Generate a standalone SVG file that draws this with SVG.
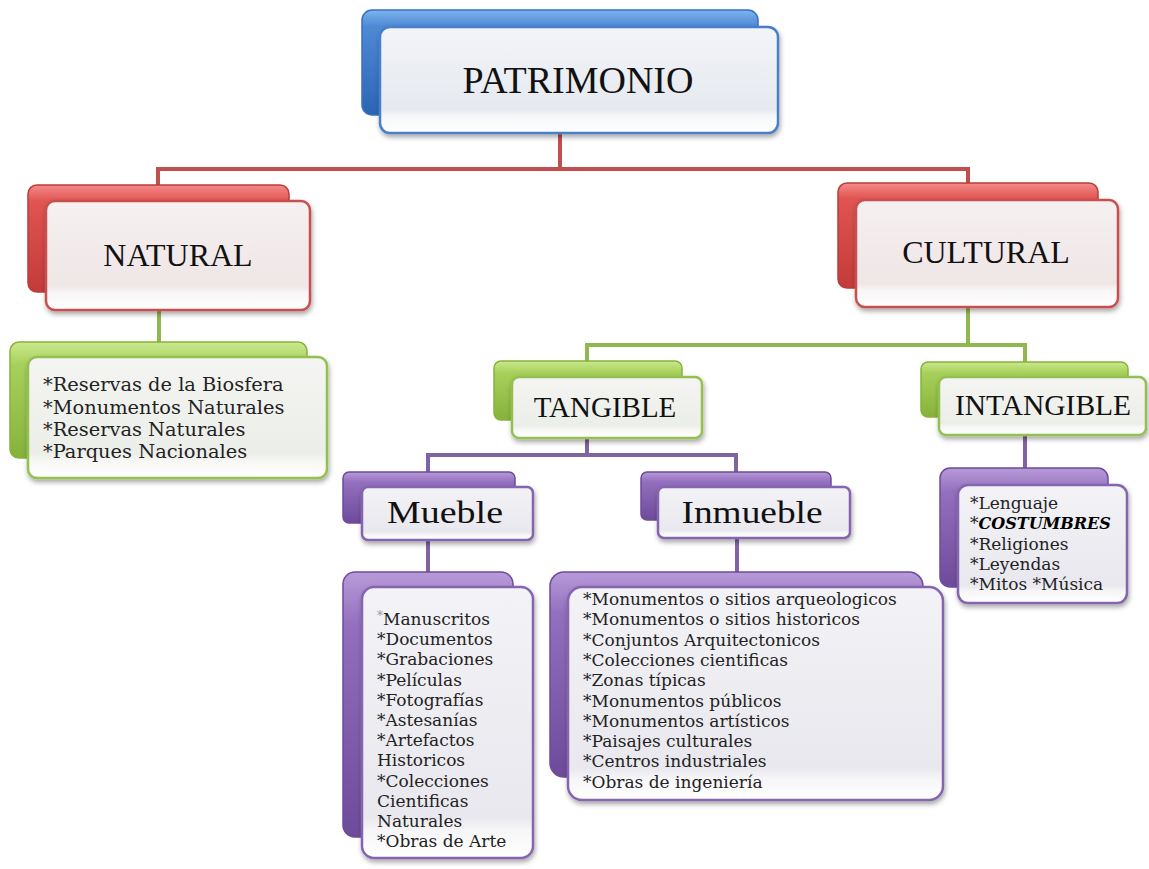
<svg xmlns="http://www.w3.org/2000/svg" width="1149" height="869" viewBox="0 0 1149 869">
<defs>
<linearGradient id="gBlue" x1="0" y1="0" x2="0" y2="1"><stop offset="0" stop-color="#7db3ee"/><stop offset="0.15" stop-color="#4f8ad6"/><stop offset="1" stop-color="#2c64b4"/></linearGradient>
<linearGradient id="gRed" x1="0" y1="0" x2="0" y2="1"><stop offset="0" stop-color="#f48a88"/><stop offset="0.15" stop-color="#e05452"/><stop offset="1" stop-color="#c23b3a"/></linearGradient>
<linearGradient id="gGreen" x1="0" y1="0" x2="0" y2="1"><stop offset="0" stop-color="#cbe88e"/><stop offset="0.2" stop-color="#a6d05a"/><stop offset="1" stop-color="#86b23c"/></linearGradient>
<linearGradient id="gPurple" x1="0" y1="0" x2="0" y2="1"><stop offset="0" stop-color="#b89ad8"/><stop offset="0.2" stop-color="#9370be"/><stop offset="1" stop-color="#6e4b9a"/></linearGradient>
<linearGradient id="fBlue" x1="0" y1="0" x2="0" y2="1"><stop offset="0" stop-color="#f2f4f8"/><stop offset="0.78" stop-color="#e6e9ef"/><stop offset="0.84" stop-color="#f6f7f9"/><stop offset="1" stop-color="#ffffff"/></linearGradient>
<linearGradient id="fRed" x1="0" y1="0" x2="0" y2="1"><stop offset="0" stop-color="#f6f0f0"/><stop offset="0.78" stop-color="#efe6e6"/><stop offset="0.84" stop-color="#f8f6f6"/><stop offset="1" stop-color="#ffffff"/></linearGradient>
<linearGradient id="fGreen" x1="0" y1="0" x2="0" y2="1"><stop offset="0" stop-color="#f4f5f2"/><stop offset="0.8" stop-color="#eceee9"/><stop offset="0.86" stop-color="#f7f8f6"/><stop offset="1" stop-color="#ffffff"/></linearGradient>
<linearGradient id="fPurple" x1="0" y1="0" x2="0" y2="1"><stop offset="0" stop-color="#f3f2f6"/><stop offset="0.85" stop-color="#e9e8ee"/><stop offset="0.9" stop-color="#f6f6f8"/><stop offset="1" stop-color="#ffffff"/></linearGradient>
<filter id="sh" x="-10%" y="-10%" width="125%" height="135%"><feDropShadow dx="1" dy="3" stdDeviation="2.5" flood-color="#000" flood-opacity="0.35"/></filter>
</defs>
<style>
.cr{stroke:#c0504d;stroke-width:4;fill:none}
.cg{stroke:#8fb84e;stroke-width:4;fill:none}
.cp{stroke:#8064a2;stroke-width:4;fill:none}
.bB{fill:url(#gBlue);stroke:#3a70bf;stroke-width:1.5}
.bR{fill:url(#gRed);stroke:#b83c3a;stroke-width:1.5}
.bG{fill:url(#gGreen);stroke:#86b23c;stroke-width:1.5}
.bP{fill:url(#gPurple);stroke:#6e4b9a;stroke-width:1.5}
.fB{fill:url(#fBlue);stroke:#4a7fc8;stroke-width:2.5;filter:url(#sh)}
.fR{fill:url(#fRed);stroke:#c8504e;stroke-width:2.5;filter:url(#sh)}
.fG{fill:url(#fGreen);stroke:#94c050;stroke-width:2.5;filter:url(#sh)}
.fP{fill:url(#fPurple);stroke:#8466b0;stroke-width:2.5;filter:url(#sh)}
.h{font-family:"Liberation Serif","DejaVu Serif",serif;fill:#111;text-anchor:middle}
.l{font-family:"DejaVu Serif","Liberation Serif",serif;font-size:17px;fill:#222}
.n{font-size:19.4px}
</style>
<rect width="1149" height="869" fill="#ffffff"/>
<g id="connectors">
<path class="cr" d="M560,133 V169 M158,185 V169 H968 V183"/>
<path class="cg" d="M159,310 V342 M968,307 V345 M587,361 V345 H1025 V362"/>
<path class="cp" d="M587,438 V455 M428,472 V455 H736 V472 M1025,435 V468 M428,540 V572 M737,538 V572"/>
</g>
<g id="patrimonio">
<rect class="bB" x="362" y="10" width="396" height="105" rx="10"/>
<rect class="fB" x="380" y="27" width="398" height="106" rx="10"/>
<text class="h" x="578" y="93" font-size="38">PATRIMONIO</text>
</g>
<g id="natural">
<rect class="bR" x="28" y="185" width="261" height="107" rx="9"/>
<rect class="fR" x="46" y="201" width="264" height="109" rx="9"/>
<text class="h" x="178" y="266" font-size="32">NATURAL</text>
</g>
<g id="cultural">
<rect class="bR" x="838" y="183" width="260" height="105" rx="9"/>
<rect class="fR" x="856" y="200" width="262" height="107" rx="9"/>
<text class="h" x="986" y="263" font-size="32">CULTURAL</text>
</g>
<g id="natural-list">
<rect class="bG" x="10" y="342" width="297" height="116" rx="9"/>
<rect class="fG" x="28" y="357" width="299" height="121" rx="9"/>
<text class="l n" x="43" y="391">*Reservas de la Biosfera</text>
<text class="l n" x="43" y="413.5">*Monumentos Naturales</text>
<text class="l n" x="43" y="436">*Reservas Naturales</text>
<text class="l n" x="43" y="458">*Parques Nacionales</text>
</g>
<g id="tangible">
<rect class="bG" x="494" y="361" width="188" height="59" rx="7"/>
<rect class="fG" x="512" y="377" width="190" height="61" rx="7"/>
<text class="h" x="605" y="417" font-size="29">TANGIBLE</text>
</g>
<g id="intangible">
<rect class="bG" x="921" y="362" width="207" height="55" rx="7"/>
<rect class="fG" x="939" y="377" width="207" height="58" rx="7"/>
<text class="h" x="1043" y="415" font-size="29.5">INTANGIBLE</text>
</g>
<g id="mueble">
<rect class="bP" x="343" y="472" width="172" height="51" rx="6"/>
<rect class="fP" x="362" y="487" width="171" height="53" rx="6"/>
<text class="h" x="445" y="523" font-size="31" textLength="116" lengthAdjust="spacingAndGlyphs">Mueble</text>
</g>
<g id="inmueble">
<rect class="bP" x="641" y="472" width="190" height="48" rx="6"/>
<rect class="fP" x="658" y="487" width="192" height="51" rx="6"/>
<text class="h" x="752" y="523" font-size="31" textLength="141" lengthAdjust="spacingAndGlyphs">Inmueble</text>
</g>
<g id="mueble-list">
<rect class="bP" x="343" y="572" width="170" height="265" rx="12"/>
<rect class="fP" x="362" y="587" width="171" height="271" rx="12"/>
<text class="l" x="377" y="625"><tspan font-size="12" fill="#999" dy="-5">*</tspan><tspan dy="5">Manuscritos</tspan></text>
<text class="l" x="377" y="645.2">*Documentos</text>
<text class="l" x="377" y="665.4">*Grabaciones</text>
<text class="l" x="377" y="685.6">*Películas</text>
<text class="l" x="377" y="705.8">*Fotografías</text>
<text class="l" x="377" y="726">*Astesanías</text>
<text class="l" x="377" y="746.2">*Artefactos</text>
<text class="l" x="377" y="766.4">Historicos</text>
<text class="l" x="377" y="786.6">*Colecciones</text>
<text class="l" x="377" y="806.8">Cientificas</text>
<text class="l" x="377" y="827">Naturales</text>
<text class="l" x="377" y="847.2">*Obras de Arte</text>
</g>
<g id="inmueble-list">
<rect class="bP" x="550" y="572" width="373" height="205" rx="14"/>
<rect class="fP" x="568" y="587" width="375" height="213" rx="14"/>
<text class="l" x="583" y="605">*Monumentos o sitios arqueologicos</text>
<text class="l" x="583" y="625.3">*Monumentos o sitios historicos</text>
<text class="l" x="583" y="645.6">*Conjuntos  Arquitectonicos</text>
<text class="l" x="583" y="665.9">*Colecciones cientificas</text>
<text class="l" x="583" y="686.2">*Zonas típicas</text>
<text class="l" x="583" y="706.5">*Monumentos públicos</text>
<text class="l" x="583" y="726.8">*Monumentos artísticos</text>
<text class="l" x="583" y="747.1">*Paisajes culturales</text>
<text class="l" x="583" y="767.4">*Centros industriales</text>
<text class="l" x="583" y="787.7">*Obras de ingeniería</text>
</g>
<g id="intangible-list">
<rect class="bP" x="940" y="468" width="168" height="119" rx="10"/>
<rect class="fP" x="958" y="485" width="169" height="118" rx="10"/>
<text class="l" x="970" y="509">*Lenguaje</text>
<text class="l" x="970" y="529">*<tspan font-weight="bold" font-style="italic" fill="#000" font-size="16">COSTUMBRES</tspan></text>
<text class="l" x="970" y="550">*Religiones</text>
<text class="l" x="970" y="570">*Leyendas</text>
<text class="l" x="970" y="590">*Mitos *Música</text>
</g>
</svg>
